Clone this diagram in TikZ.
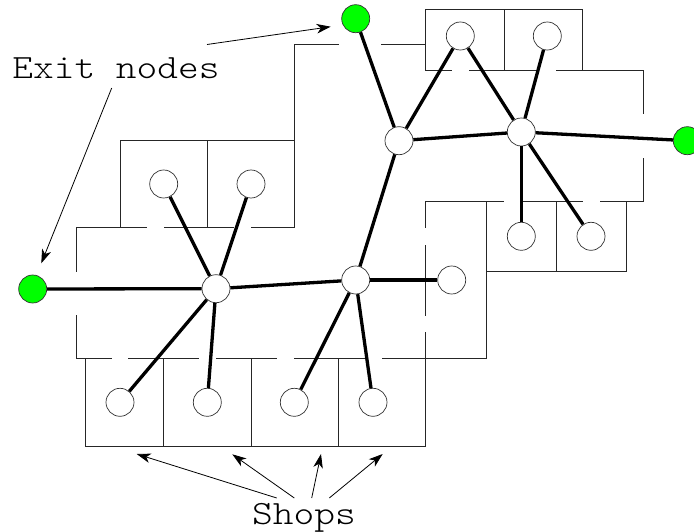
\documentclass[tikz,border=0pt]{standalone}
\usepackage{fontspec}
\newfontfamily\labelfont[FakeStretch=1.16]{Latin Modern Mono Light}
\usetikzlibrary{arrows.meta}
\tikzset{
  wall/.style={line width=1pt,draw=black!85,line cap=rect},
  link/.style={line width=3.3pt,draw=black},
  pointer/.style={line width=0.8pt,-{Stealth[length=14pt,width=9.5pt,inset=4pt]}},
  hub/.style={circle,draw=black!80,line width=0.7pt,fill=white,minimum size=28pt,inner sep=0pt},
  exitnode/.style={hub,fill=green},
  caption/.style={font=\labelfont\fontsize{34pt}{34pt}\selectfont,inner sep=0pt}
}
\begin{document}
\begin{tikzpicture}[x=1pt,y=-1pt]
\useasboundingbox (0,0) rectangle (694,532);
% walls
\draw[wall] (425.3,44.3) -- (381.7,44.3);
\draw[wall] (338.3,44.3) -- (294.5,44.3) -- (294.5,227.7);
\draw[wall] (425.3,70.7) -- (425.3,9.5) -- (582.3,9.5) -- (582.3,70.7);
\draw[wall] (504,9.5) -- (504,70.7);
\draw[wall] (425.3,70.7) -- (451.7,70.7);
\draw[wall] (469,70.7) -- (537,70.7);
\draw[wall] (556.7,70.7) -- (643.3,70.7) -- (643.3,114);
\draw[wall] (643.3,158.3) -- (643.3,201.7) -- (600,201.7);
\draw[wall] (582.3,201.7) -- (521.3,201.7);
\draw[wall] (503.5,201.7) -- (425.3,201.7) -- (425.3,227.3);
\draw[wall] (425.3,245.3) -- (425.3,315);
\draw[wall] (425.3,332.7) -- (425.3,446);
\draw[wall] (486.7,201.7) -- (486.7,358.7) -- (382,358.7);
\draw[wall] (486.7,271.3) -- (626,271.3) -- (626,201.7);
\draw[wall] (556.3,201.7) -- (556.3,271.3);
\draw[wall] (120,227.7) -- (120,140.7) -- (294.5,140.7);
\draw[wall] (207.3,140.7) -- (207.3,227.7);
\draw[wall] (146,227.7) -- (76.3,227.7) -- (76.3,271.3);
\draw[wall] (164,227.7) -- (233,227.7);
\draw[wall] (251,227.7) -- (294.5,227.7);
\draw[wall] (76.3,315.3) -- (76.3,358.7) -- (111.7,358.7);
\draw[wall] (128.3,358.7) -- (198.3,358.7);
\draw[wall] (216,358.7) -- (276.7,358.7);
\draw[wall] (294.3,358.7) -- (364,358.7);
\draw[wall] (85.3,358.7) -- (85.3,446) -- (425.3,446);
\draw[wall] (163.7,358.7) -- (163.7,446);
\draw[wall] (251,358.7) -- (251,446);
\draw[wall] (338.3,358.7) -- (338.3,446);
% nodes
\node[hub] (a) at (399,140.7) {};
\node[hub] (b) at (521.3,132) {};
\node[hub] (c) at (216,288.7) {};
\node[hub] (d) at (355.7,280) {};
\node[hub] (s1) at (460.3,36) {};
\node[hub] (s2) at (547.3,36) {};
\node[hub] (s3) at (521.3,236.3) {};
\node[hub] (s4) at (591,236.3) {};
\node[hub] (s5) at (451.7,280) {};
\node[hub] (s6) at (163.7,184) {};
\node[hub] (s7) at (251,184) {};
\node[hub] (s8) at (120,402.3) {};
\node[hub] (s9) at (207.3,402.3) {};
\node[hub] (s10) at (294.3,402.3) {};
\node[hub] (s11) at (373,402.3) {};
\node[exitnode] (e1) at (355.7,18.7) {};
\node[exitnode] (e2) at (687.3,140.7) {};
\node[exitnode] (e3) at (32.7,289) {};
% links
\draw[link] (e1) -- (a);
\draw[link] (a) -- (s1);
\draw[link] (a) -- (b);
\draw[link] (a) -- (d);
\draw[link] (b) -- (s1);
\draw[link] (b) -- (s2);
\draw[link] (b) -- (e2);
\draw[link] (b) -- (s3);
\draw[link] (b) -- (s4);
\draw[link] (d) -- (s5);
\draw[link] (d) -- (c);
\draw[link] (d) -- (s10);
\draw[link] (d) -- (s11);
\draw[link] (c) -- (e3);
\draw[link] (c) -- (s6);
\draw[link] (c) -- (s7);
\draw[link] (c) -- (s8);
\draw[link] (c) -- (s9);
% captions
\node[caption] (exits) at (116,68) {Exit nodes};
\node[caption] (shops) at (304,518) {Shops};
\coordinate (x1) at (207,44.5);
\coordinate (x2) at (330.7,26.7);
\coordinate (x3) at (111.7,88);
\coordinate (x4) at (41.3,263.3);
\coordinate (p1) at (276.7,498);
\coordinate (p2) at (136.7,454);
\coordinate (p3) at (294.3,498);
\coordinate (p4) at (232.3,454.3);
\coordinate (p5) at (311.7,498);
\coordinate (p6) at (321,454);
\coordinate (p7) at (329.3,498);
\coordinate (p8) at (382.7,454);
\draw[pointer] (x1) -- (x2);
\draw[pointer] (x3) -- (x4);
\draw[pointer] (p1) -- (p2);
\draw[pointer] (p3) -- (p4);
\draw[pointer] (p5) -- (p6);
\draw[pointer] (p7) -- (p8);
\end{tikzpicture}
\end{document}
